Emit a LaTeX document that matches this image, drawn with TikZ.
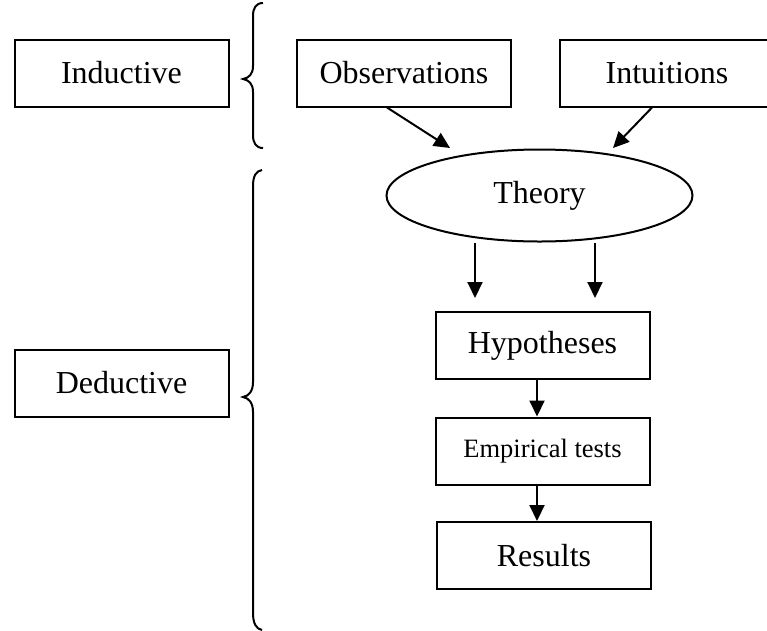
\documentclass[tikz,border=0pt]{standalone}
\usepackage{fontspec}
\setmainfont{Liberation Serif}
\usetikzlibrary{arrows.meta,shapes.geometric}

\tikzset{
    box/.style={shape=rectangle, draw=black, line width=2pt, minimum width=214pt, minimum height=67pt, inner sep=0pt, font=\fontsize{32}{38}\selectfont},
    arr/.style={-{Triangle[length=16pt,width=15pt]}, line width=2pt},
}

\begin{document}
\begin{tikzpicture}[x=1pt, y=-1pt]
    \useasboundingbox (0,0) rectangle (767,630);
    \clip (0,0) rectangle (767,630);

    \node[box] (ind) at (121.5,73) {Inductive};
    \node[box] (obs) at (404,73) {Observations};
    \node[box] (int) at (667,73) {Intuitions};
    \node[box] (ded) at (121.5,383) {Deductive};
    \node[shape=ellipse, draw=black, line width=2pt, minimum width=306pt, minimum height=92pt, inner sep=0pt, font=\fontsize{32}{38}\selectfont] (theory) at (539.5,195.5) {Theory};
    \node[box] (hyp) at (542.5,345.5) {Hypotheses};
    \node[box, font=\fontsize{26.5}{32}\selectfont] (emp) at (542.5,451) {Empirical tests};
    \node[box] (res) at (544,555.5) {Results};

    % braces
    \draw[line width=2pt] (263,3) .. controls (256,3) and (253,8) .. (253,16) -- (253,66)
        .. controls (253,74) and (249,78) .. (243,79) .. controls (249,80) and (253,84) .. (253,92)
        -- (253,135) .. controls (253,143) and (256,148) .. (263,148);
    \draw[line width=2pt] (262,170) .. controls (256,171) and (253,176) .. (253,186) -- (253,382)
        .. controls (253,391) and (249,396) .. (243,397) .. controls (249,398) and (253,403) .. (253,412)
        -- (253,613) .. controls (253,623) and (256,629) .. (262,630);

    \coordinate (tl) at ([xshift=-64.5pt]theory.south);
    \coordinate (tr) at ([xshift=55.5pt]theory.south);
    \coordinate (hs) at ([xshift=-5.5pt]hyp.south);
    \coordinate (es) at ([xshift=-5.5pt]emp.south);
    \coordinate (os) at ([xshift=-17pt]obs.south);
    \coordinate (is) at ([xshift=-15pt]int.south);

    \path [arr](os) edge ([xshift=-89.5pt,yshift=47.5pt]theory.center);
    \path [arr](is) edge ([xshift=73.5pt,yshift=47.5pt]theory.center);
    \path [arr,shorten >=13pt](tl) edge (tl |- hyp.north);
    \path [arr,shorten >=13pt](tr) edge (tr |- hyp.north);
    \path [arr](hs) edge (hs |- emp.north);
    \path [arr](es) edge (es |- res.north);

\end{tikzpicture}
\end{document}
